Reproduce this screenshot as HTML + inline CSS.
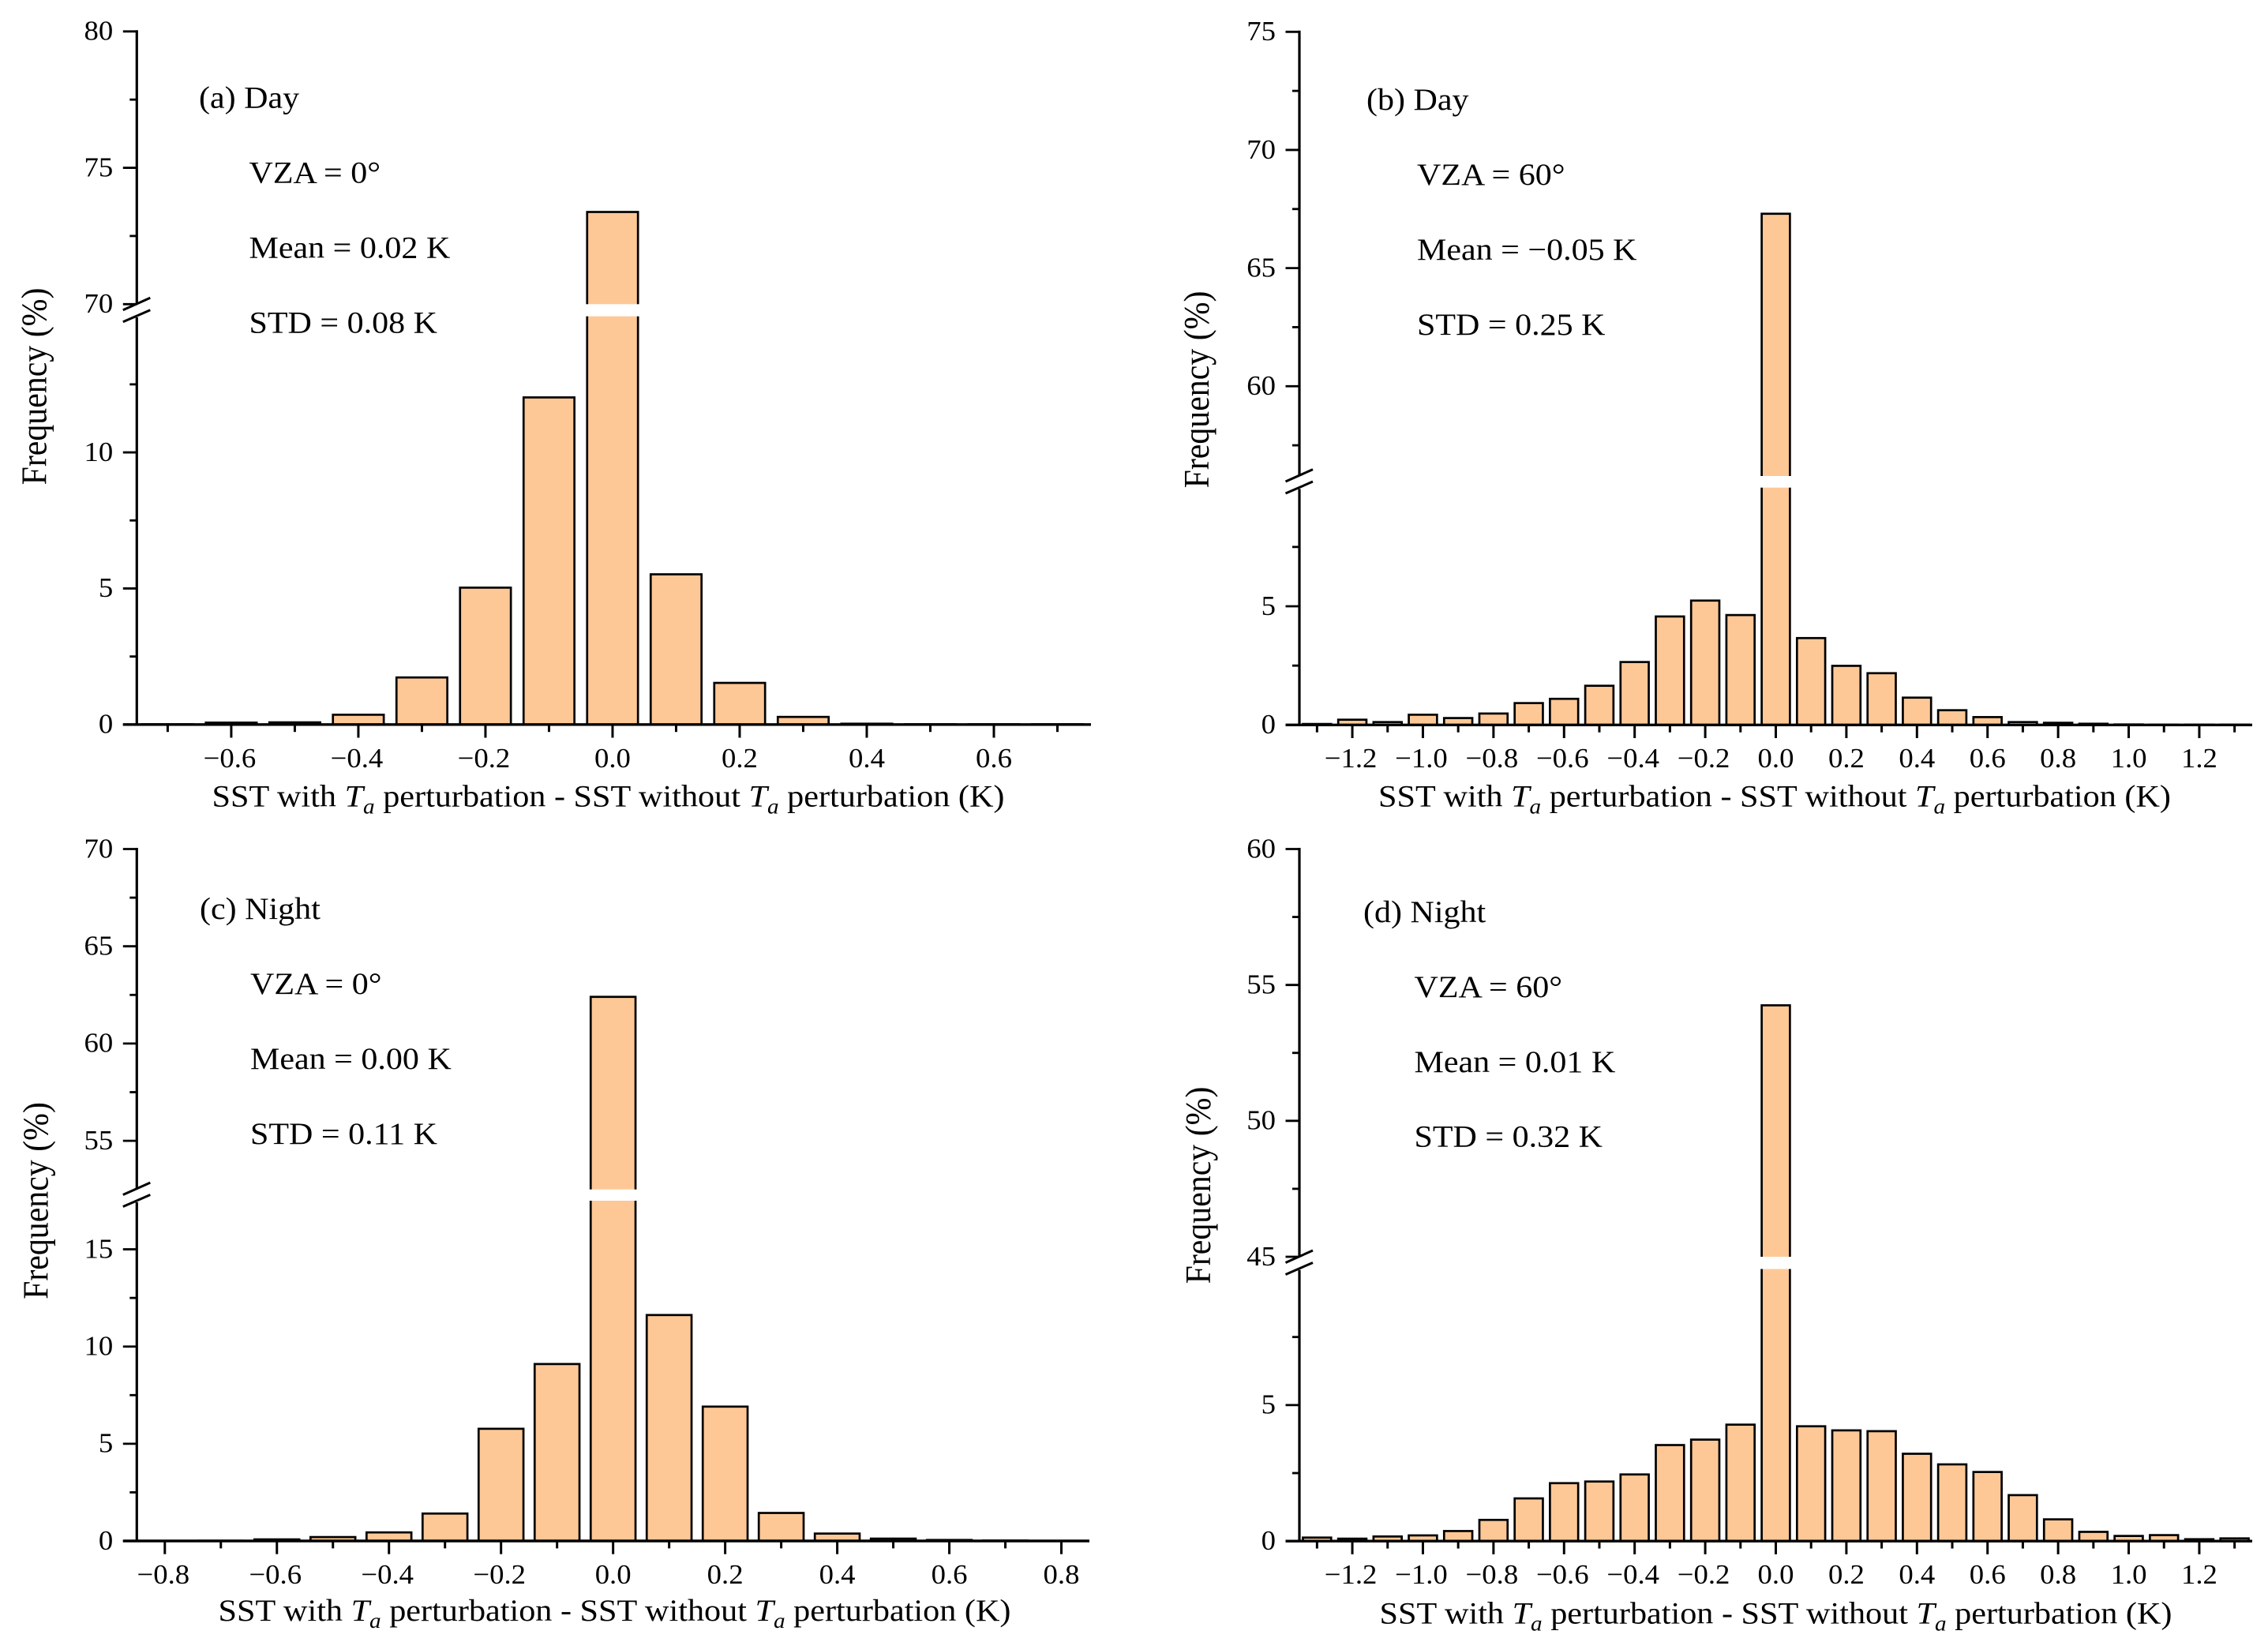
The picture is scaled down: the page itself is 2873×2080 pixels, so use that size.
<!DOCTYPE html>
<html lang="en">
<head>
<meta charset="utf-8">
<title>SST perturbation frequency histograms</title>
<style>
html,body{margin:0;padding:0;background:#fff;}
svg{display:block;}
text{font-family:"Liberation Serif",serif;fill:#000;white-space:pre;}
</style>
</head>
<body>
<svg id="figure" xmlns="http://www.w3.org/2000/svg" width="2873" height="2080" viewBox="0 0 2873 2080">
<rect x="0" y="0" width="2873" height="2080" fill="#fff"/>
<g id="plots"></g>

<g font-size="39">
<text transform="translate(252,136.7) scale(1.078,1)">(a) Day</text>
<text transform="translate(315.5,231.7) scale(1.078,1)">VZA = 0°</text>
<text transform="translate(315.5,326.7) scale(1.078,1)">Mean = 0.02 K</text>
<text transform="translate(315.5,421.7) scale(1.078,1)">STD = 0.08 K</text>
</g>
<g font-size="39">
<text transform="translate(1731,139) scale(1.078,1)">(b) Day</text>
<text transform="translate(1795,234) scale(1.078,1)">VZA = 60°</text>
<text transform="translate(1795,329) scale(1.078,1)">Mean = −0.05 K</text>
<text transform="translate(1795,424) scale(1.078,1)">STD = 0.25 K</text>
</g>
<g font-size="39">
<text transform="translate(253,1164) scale(1.078,1)">(c) Night</text>
<text transform="translate(317,1259) scale(1.078,1)">VZA = 0°</text>
<text transform="translate(317,1354) scale(1.078,1)">Mean = 0.00 K</text>
<text transform="translate(317,1449) scale(1.078,1)">STD = 0.11 K</text>
</g>
<g font-size="39">
<text transform="translate(1727,1168) scale(1.078,1)">(d) Night</text>
<text transform="translate(1791.5,1263) scale(1.078,1)">VZA = 60°</text>
<text transform="translate(1791.5,1358) scale(1.078,1)">Mean = 0.01 K</text>
<text transform="translate(1791.5,1452.5) scale(1.078,1)">STD = 0.32 K</text>
</g>

<g font-size="46" text-anchor="middle">
<text transform="translate(58.3,489.5) rotate(-90) scale(0.91,1)">Frequency (%)</text>
<text transform="translate(1531,493.5) rotate(-90) scale(0.91,1)">Frequency (%)</text>
<text transform="translate(60.5,1521) rotate(-90) scale(0.91,1)">Frequency (%)</text>
<text transform="translate(1533,1501.5) rotate(-90) scale(0.91,1)">Frequency (%)</text>
</g>

<g font-size="39" text-anchor="middle">
<text transform="translate(770.5,1021.7) scale(1.082,1)">SST with <tspan font-style="italic">T</tspan><tspan font-style="italic" font-size="27" dy="9">a</tspan><tspan dy="-9"> perturbation - SST without </tspan><tspan font-style="italic">T</tspan><tspan font-style="italic" font-size="27" dy="9">a</tspan><tspan dy="-9"> perturbation (K)</tspan></text>
<text transform="translate(2248,1021.5) scale(1.082,1)">SST with <tspan font-style="italic">T</tspan><tspan font-style="italic" font-size="27" dy="9">a</tspan><tspan dy="-9"> perturbation - SST without </tspan><tspan font-style="italic">T</tspan><tspan font-style="italic" font-size="27" dy="9">a</tspan><tspan dy="-9"> perturbation (K)</tspan></text>
<text transform="translate(778.5,2053) scale(1.082,1)">SST with <tspan font-style="italic">T</tspan><tspan font-style="italic" font-size="27" dy="9">a</tspan><tspan dy="-9"> perturbation - SST without </tspan><tspan font-style="italic">T</tspan><tspan font-style="italic" font-size="27" dy="9">a</tspan><tspan dy="-9"> perturbation (K)</tspan></text>
<text transform="translate(2249.5,2056.5) scale(1.082,1)">SST with <tspan font-style="italic">T</tspan><tspan font-style="italic" font-size="27" dy="9">a</tspan><tspan dy="-9"> perturbation - SST without </tspan><tspan font-style="italic">T</tspan><tspan font-style="italic" font-size="27" dy="9">a</tspan><tspan dy="-9"> perturbation (K)</tspan></text>
</g>
</svg>

<script>
// ---- Panel (a) data ----
const panelABins = [-0.7,-0.6,-0.5,-0.4,-0.3,-0.2,-0.1,0,0.1,0.2,0.3,0.4,0.5,0.6,0.7];
const panelAValues = [0.01,0.07,0.08,0.36,1.73,5.03,12.02,73.38,5.52,1.53,0.28,0.03,0.01,0.01,0.01];
const panelAXMajor = [-0.6,-0.4,-0.2,0,0.2,0.4,0.6];
const panelAXMinor = [-0.7,-0.5,-0.3,-0.1,0.1,0.3,0.5,0.7];
const panelAYMajor = [0,5,10,70,75,80];
const panelAYMinor = [2.5,7.5,12.5,72.5,77.5];

// ---- Panel (b) data ----
const panelBBins = [-1.3,-1.2,-1.1,-1.0,-0.9,-0.8,-0.7,-0.6,-0.5,-0.4,-0.3,-0.2,-0.1,0,0.1,0.2,0.3,0.4,0.5,0.6,0.7,0.8,0.9,1.0,1.1,1.2,1.3];
const panelBValues = [0.04,0.22,0.12,0.43,0.29,0.48,0.92,1.10,1.65,2.65,4.57,5.24,4.63,67.3,3.66,2.49,2.18,1.15,0.62,0.33,0.12,0.09,0.05,0.02,0.01,0.01,0.01];
const panelBXMajor = [-1.2,-1.0,-0.8,-0.6,-0.4,-0.2,0,0.2,0.4,0.6,0.8,1.0,1.2];
const panelBXMinor = [-1.3,-1.1,-0.9,-0.7,-0.5,-0.3,-0.1,0.1,0.3,0.5,0.7,0.9,1.1,1.3];
const panelBYMajor = [0,5,60,65,70,75];
const panelBYMinor = [2.5,7.5,57.5,62.5,67.5,72.5];

// ---- Panel (c) data ----
const panelCBins = [-0.7,-0.6,-0.5,-0.4,-0.3,-0.2,-0.1,0,0.1,0.2,0.3,0.4,0.5,0.6,0.7];
const panelCValues = [0.01,0.08,0.20,0.44,1.41,5.77,9.10,62.4,11.62,6.91,1.44,0.38,0.12,0.05,0.02];
const panelCXMajor = [-0.8,-0.6,-0.4,-0.2,0,0.2,0.4,0.6,0.8];
const panelCXMinor = [-0.7,-0.5,-0.3,-0.1,0.1,0.3,0.5,0.7];
const panelCYMajor = [0,5,10,15,55,60,65,70];
const panelCYMinor = [2.5,7.5,12.5,57.5,62.5,67.5];

// ---- Panel (d) data ----
const panelDBins = [-1.3,-1.2,-1.1,-1.0,-0.9,-0.8,-0.7,-0.6,-0.5,-0.4,-0.3,-0.2,-0.1,0,0.1,0.2,0.3,0.4,0.5,0.6,0.7,0.8,0.9,1.0,1.1,1.2,1.3];
const panelDValues = [0.13,0.09,0.17,0.21,0.37,0.78,1.57,2.13,2.19,2.45,3.53,3.73,4.28,54.25,4.22,4.07,4.04,3.21,2.82,2.54,1.69,0.80,0.34,0.19,0.22,0.07,0.10];
const panelDXMajor = [-1.2,-1.0,-0.8,-0.6,-0.4,-0.2,0,0.2,0.4,0.6,0.8,1.0,1.2];
const panelDXMinor = [-1.3,-1.1,-0.9,-0.7,-0.5,-0.3,-0.1,0.1,0.3,0.5,0.7,0.9,1.1,1.3];
const panelDYMajor = [0,5,45,50,55,60];
const panelDYMinor = [2.5,7.5,47.5,52.5,57.5];

const barWidthUnits = 0.08;
const SVGNS = 'http://www.w3.org/2000/svg';

function line(parent, x1, y1, x2, y2, w, name) {
  const el = document.createElementNS(SVGNS, 'line');
  
  
  el.setAttribute('x1', x1);
  el.setAttribute('y1', y1);
  el.setAttribute('x2', x2);
  el.setAttribute('y2', y2);
  el.setAttribute('stroke', '#000');
  el.setAttribute('stroke-width', w);
  parent.appendChild(el);
  return el;
}

function tickText(parent, x, y, anchor, str, name) {
  const el = document.createElementNS(SVGNS, 'text');
  
  
  el.setAttribute('transform', 'translate(' + x + ',' + y + ') scale(1.05,1)');
  el.setAttribute('font-size', '35');
  el.setAttribute('text-anchor', anchor);
  el.textContent = str;
  parent.appendChild(el);
  return el;
}

function fmtX(v) {
  const s = Math.abs(v).toFixed(1);
  return v < 0 ? '\u2212' + s : s;
}

function drawPanel(id, bins, values, xMajor, xMinor, yMajor, yMinor, L) {
  const root = document.getElementById('plots');
  const g = document.createElementNS(SVGNS, 'g');
  
  
  root.appendChild(g);

  const xScale = v => L.axisX + (v - L.xMin) / (L.xMax - L.xMin) * (L.right - L.axisX);
  const yScale = v => {
    if (v <= L.lowerMax) return L.lowerBottom + (v / L.lowerMax) * (L.lowerTop - L.lowerBottom);
    if (v < L.upperMin) return L.lowerTop;
    return L.upperBottom + (v - L.upperMin) / (L.upperMax - L.upperMin) * (L.upperTop - L.upperBottom);
  };
  const gapCenter = (L.upperBottom + L.lowerTop) / 2;

  // bars
  const halfW = (xScale(barWidthUnits) - xScale(0)) / 2;
  bins.forEach(function (b, i) {
    const top = yScale(values[i]);
    const r = document.createElementNS(SVGNS, 'rect');
    
    
    r.setAttribute('x', xScale(b) - halfW);
    r.setAttribute('y', top);
    r.setAttribute('width', 2 * halfW);
    r.setAttribute('height', Math.max(0, L.lowerBottom - top));
    r.setAttribute('fill', '#FEC896');
    r.setAttribute('stroke', '#000');
    r.setAttribute('stroke-width', '2.7');
    g.appendChild(r);
    if (values[i] > L.lowerMax) {
      const w = document.createElementNS(SVGNS, 'rect');
      
      
      w.setAttribute('x', xScale(b) - halfW - 3);
      w.setAttribute('y', L.upperBottom);
      w.setAttribute('width', 2 * halfW + 6);
      w.setAttribute('height', L.lowerTop - L.upperBottom);
      w.setAttribute('fill', '#fff');
      g.appendChild(w);
    }
  });

  // y axis
  line(g, L.axisX, L.upperTop - 1.5, L.axisX, gapCenter - 8, 3.2, 'y-axis-upper-line');
  line(g, L.axisX, gapCenter + 9, L.axisX, L.lowerBottom, 3.2, 'y-axis-lower-line');
  line(g, L.axisX - 17.5, gapCenter - 0.3, L.axisX + 17, gapCenter - 15.7, 3, 'axis-break-mark-upper');
  line(g, L.axisX - 17.5, gapCenter + 14.7, L.axisX + 17, gapCenter - 0.3, 3, 'axis-break-mark-lower');

  // x axis
  line(g, L.axisX - 17.5, L.lowerBottom, L.right, L.lowerBottom, 3.4, 'x-axis-line');

  yMajor.forEach(function (v) {
    const y = yScale(v);
    line(g, L.axisX - 17.5, y, L.axisX, y, 2.8, 'y-major-tick');
    tickText(g, L.axisX - 30, y + 10.8, 'end', String(v), 'y-tick-label');
  });
  yMinor.forEach(function (v) {
    const y = yScale(v);
    line(g, L.axisX - 9, y, L.axisX, y, 2.8, 'y-minor-tick');
  });
  xMajor.forEach(function (v) {
    const x = xScale(v);
    line(g, x, L.lowerBottom, x, L.lowerBottom + 16.7, 3, 'x-major-tick');
    tickText(g, v < 0 ? x - 2 : x, L.lowerBottom + L.labelDrop, 'middle', fmtX(v), 'x-tick-label');
  });
  xMinor.forEach(function (v) {
    const x = xScale(v);
    line(g, x, L.lowerBottom, x, L.lowerBottom + 9.4, 3, 'x-minor-tick');
  });
}

drawPanel('a', panelABins, panelAValues, panelAXMajor, panelAXMinor, panelAYMajor, panelAYMinor, {
  axisX: 173.3, right: 1382, xMin: -0.7486, xMax: 0.7528,
  lowerBottom: 917.8, lowerTop: 400.7, lowerMax: 15,
  upperBottom: 385.3, upperTop: 39.8, upperMin: 70, upperMax: 80, labelDrop: 54.3
});
drawPanel('b', panelBBins, panelBValues, panelBXMajor, panelBXMinor, panelBYMajor, panelBYMinor, {
  axisX: 1646, right: 2853, xMin: -1.35, xMax: 1.35,
  lowerBottom: 918.3, lowerTop: 617.7, lowerMax: 10,
  upperBottom: 603, upperTop: 40.3, upperMin: 56.2, upperMax: 75, labelDrop: 53.5
});
drawPanel('c', panelCBins, panelCValues, panelCXMajor, panelCXMinor, panelCYMajor, panelCYMinor, {
  axisX: 173.3, right: 1380, xMin: -0.85, xMax: 0.85,
  lowerBottom: 1952, lowerTop: 1521, lowerMax: 17.5,
  upperBottom: 1506.7, upperTop: 1075.5, upperMin: 52.5, upperMax: 70, labelDrop: 54
});
drawPanel('d', panelDBins, panelDValues, panelDXMajor, panelDXMinor, panelDYMajor, panelDYMinor, {
  axisX: 1646, right: 2853, xMin: -1.35, xMax: 1.35,
  lowerBottom: 1952.2, lowerTop: 1607.5, lowerMax: 10,
  upperBottom: 1592, upperTop: 1075.5, upperMin: 45, upperMax: 60, labelDrop: 54
});
</script>
</body>
</html>
